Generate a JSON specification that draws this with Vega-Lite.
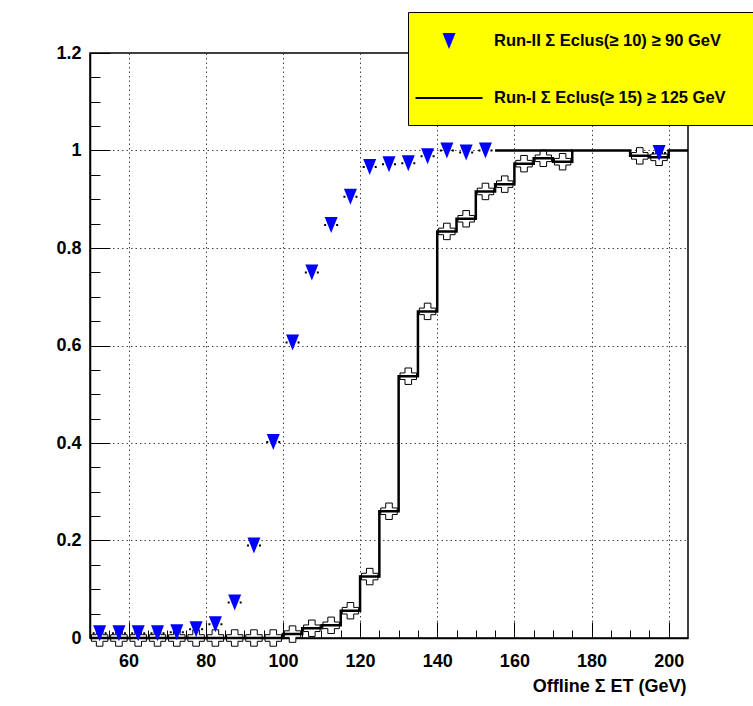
{
  "$schema": "https://vega.github.io/schema/vega-lite/v6.json",
  "width": 598,
  "height": 585,
  "autosize": "none",
  "padding": {"left": 90, "top": 53, "right": 65, "bottom": 68},
  "background": "white",
  "config": {
    "view": {"stroke": "black", "strokeWidth": 1.5},
    "font": "Liberation Sans",
    "legend": {
      "orient": "none",
      "legendX": 318,
      "legendY": -41,
      "fillColor": "#ffff00",
      "strokeColor": "black",
      "padding": 18,
      "rowPadding": 37,
      "symbolSize": 400,
      "symbolOffset": 12,
      "labelOffset": 34,
      "labelFont": "Liberation Sans",
      "labelFontSize": 16.5,
      "labelFontWeight": "bold",
      "labelColor": "black",
      "labelLimit": 0
    }
  },
  "datasets": {
    "run2": [
      {"x": 52.5, "lo": 50, "hi": 55, "y": 0.01, "s": "Run-II  Σ Eclus(≥ 10) ≥ 90 GeV"},
      {"x": 57.5, "lo": 55, "hi": 60, "y": 0.01, "s": "Run-II  Σ Eclus(≥ 10) ≥ 90 GeV"},
      {"x": 62.5, "lo": 60, "hi": 65, "y": 0.01, "s": "Run-II  Σ Eclus(≥ 10) ≥ 90 GeV"},
      {"x": 67.5, "lo": 65, "hi": 70, "y": 0.01, "s": "Run-II  Σ Eclus(≥ 10) ≥ 90 GeV"},
      {"x": 72.5, "lo": 70, "hi": 75, "y": 0.012, "s": "Run-II  Σ Eclus(≥ 10) ≥ 90 GeV"},
      {"x": 77.5, "lo": 75, "hi": 80, "y": 0.018, "s": "Run-II  Σ Eclus(≥ 10) ≥ 90 GeV"},
      {"x": 82.5, "lo": 80, "hi": 85, "y": 0.028, "s": "Run-II  Σ Eclus(≥ 10) ≥ 90 GeV"},
      {"x": 87.5, "lo": 85, "hi": 90, "y": 0.073, "s": "Run-II  Σ Eclus(≥ 10) ≥ 90 GeV"},
      {"x": 92.5, "lo": 90, "hi": 95, "y": 0.19, "s": "Run-II  Σ Eclus(≥ 10) ≥ 90 GeV"},
      {"x": 97.5, "lo": 95, "hi": 100, "y": 0.402, "s": "Run-II  Σ Eclus(≥ 10) ≥ 90 GeV"},
      {"x": 102.5, "lo": 100, "hi": 105, "y": 0.606, "s": "Run-II  Σ Eclus(≥ 10) ≥ 90 GeV"},
      {"x": 107.5, "lo": 105, "hi": 110, "y": 0.75, "s": "Run-II  Σ Eclus(≥ 10) ≥ 90 GeV"},
      {"x": 112.5, "lo": 110, "hi": 115, "y": 0.847, "s": "Run-II  Σ Eclus(≥ 10) ≥ 90 GeV"},
      {"x": 117.5, "lo": 115, "hi": 120, "y": 0.905, "s": "Run-II  Σ Eclus(≥ 10) ≥ 90 GeV"},
      {"x": 122.5, "lo": 120, "hi": 125, "y": 0.966, "s": "Run-II  Σ Eclus(≥ 10) ≥ 90 GeV"},
      {"x": 127.5, "lo": 125, "hi": 130, "y": 0.972, "s": "Run-II  Σ Eclus(≥ 10) ≥ 90 GeV"},
      {"x": 132.5, "lo": 130, "hi": 135, "y": 0.974, "s": "Run-II  Σ Eclus(≥ 10) ≥ 90 GeV"},
      {"x": 137.5, "lo": 135, "hi": 140, "y": 0.988, "s": "Run-II  Σ Eclus(≥ 10) ≥ 90 GeV"},
      {"x": 142.5, "lo": 140, "hi": 145, "y": 1.0, "s": "Run-II  Σ Eclus(≥ 10) ≥ 90 GeV"},
      {"x": 147.5, "lo": 145, "hi": 150, "y": 0.996, "s": "Run-II  Σ Eclus(≥ 10) ≥ 90 GeV"},
      {"x": 152.5, "lo": 150, "hi": 155, "y": 1.0, "s": "Run-II  Σ Eclus(≥ 10) ≥ 90 GeV"},
      {"x": 197.5, "lo": 195, "hi": 200, "y": 0.995, "s": "Run-II  Σ Eclus(≥ 10) ≥ 90 GeV"}
    ],
    "run2flat": [
      {"x": 155, "hi": 175, "y": 1.0}
    ],
    "run1hist": [
      {"x": 50, "y": 0},
      {"x": 100, "y": 0.008},
      {"x": 105, "y": 0.02},
      {"x": 110, "y": 0.026},
      {"x": 115, "y": 0.056},
      {"x": 120, "y": 0.126},
      {"x": 125, "y": 0.26},
      {"x": 130, "y": 0.537},
      {"x": 135, "y": 0.67},
      {"x": 140, "y": 0.834},
      {"x": 145, "y": 0.86},
      {"x": 150, "y": 0.916},
      {"x": 155, "y": 0.931},
      {"x": 160, "y": 0.973},
      {"x": 165, "y": 0.984},
      {"x": 170, "y": 0.977},
      {"x": 175, "y": 1.0},
      {"x": 180, "y": 1.0},
      {"x": 185, "y": 1.0},
      {"x": 190, "y": 0.989},
      {"x": 195, "y": 0.986},
      {"x": 200, "y": 1.0},
      {"x": 205, "y": 1.0}
    ],
    "run1pts": [
      {"x": 52.5, "y": 0}, {"x": 57.5, "y": 0}, {"x": 62.5, "y": 0}, {"x": 67.5, "y": 0},
      {"x": 72.5, "y": 0}, {"x": 77.5, "y": 0}, {"x": 82.5, "y": 0}, {"x": 87.5, "y": 0},
      {"x": 92.5, "y": 0}, {"x": 97.5, "y": 0},
      {"x": 102.5, "y": 0.008}, {"x": 107.5, "y": 0.02}, {"x": 112.5, "y": 0.026},
      {"x": 117.5, "y": 0.056}, {"x": 122.5, "y": 0.126}, {"x": 127.5, "y": 0.26},
      {"x": 132.5, "y": 0.537}, {"x": 137.5, "y": 0.67}, {"x": 142.5, "y": 0.834},
      {"x": 147.5, "y": 0.86}, {"x": 152.5, "y": 0.916}, {"x": 157.5, "y": 0.931},
      {"x": 162.5, "y": 0.973}, {"x": 167.5, "y": 0.984}, {"x": 172.5, "y": 0.977},
      {"x": 192.5, "y": 0.989}, {"x": 197.5, "y": 0.986}
    ]
  },
  "encoding": {
    "x": {
      "field": "x", "type": "quantitative",
      "scale": {"domain": [50, 205], "nice": false, "zero": false},
      "axis": {
        "values": [55, 60, 65, 70, 75, 80, 85, 90, 95, 100, 105, 110, 115, 120, 125, 130, 135, 140, 145, 150, 155, 160, 165, 170, 175, 180, 185, 190, 195, 200],
        "title": "Offline  Σ ET (GeV)",
        "titleFont": "Liberation Sans", "titleFontSize": 18, "titleFontWeight": "bold", "titleColor": "black",
        "titleAnchor": "end", "titleAlign": "right", "titleBaseline": "alphabetic",
        "titleX": 596, "titleY": 53,
        "domainColor": "black", "domainWidth": 1.5,
        "grid": true, "gridColor": "#444", "gridDash": [1.5, 3], "gridWidth": 1,
        "gridOpacity": {"condition": {"test": "datum.value % 20 === 0", "value": 1}, "value": 0},
        "tickColor": "black", "tickWidth": 1,
        "tickSize": {"condition": {"test": "datum.value % 20 === 0", "value": -16}, "value": -8},
        "labelExpr": "datum.value % 20 === 0 ? datum.label : ''",
        "labelFont": "Liberation Sans", "labelFontSize": 18, "labelFontWeight": "bold", "labelColor": "black",
        "labelPadding": 30, "labelFlush": false
      }
    },
    "y": {
      "field": "y", "type": "quantitative",
      "scale": {"domain": [0, 1.2], "nice": false, "zero": false},
      "axis": {
        "values": [0, 0.05, 0.1, 0.15, 0.2, 0.25, 0.3, 0.35, 0.4, 0.45, 0.5, 0.55, 0.6, 0.65, 0.7, 0.75, 0.8, 0.85, 0.9, 0.95, 1, 1.05, 1.1, 1.15, 1.2],
        "title": null,
        "format": "~g",
        "domainColor": "black", "domainWidth": 1.5,
        "grid": true, "gridColor": "#444", "gridDash": [1.5, 3], "gridWidth": 1,
        "gridOpacity": {"condition": {"test": "abs(datum.value*5 - round(datum.value*5)) < 0.0001 && datum.value > 0.01 && datum.value < 1.19", "value": 1}, "value": 0},
        "tickColor": "black", "tickWidth": 1,
        "tickSize": {"condition": {"test": "abs(datum.value*5 - round(datum.value*5)) < 0.0001", "value": -20}, "value": -10},
        "labelExpr": "abs(datum.value*5 - round(datum.value*5)) < 0.0001 ? datum.label : ''",
        "labelFont": "Liberation Sans", "labelFontSize": 18, "labelFontWeight": "bold", "labelColor": "black",
        "labelPadding": 29, "labelFlush": false
      }
    }
  },
  "layer": [
    {
      "data": {"name": "run1pts"},
      "mark": {"type": "point", "shape": "cross", "size": 270, "filled": true, "fill": "white", "stroke": "black", "strokeWidth": 1, "opacity": 1}
    },
    {
      "data": {"name": "run1hist"},
      "mark": {"type": "line", "interpolate": "step-after", "color": "black", "strokeWidth": 2.5}
    },
    {
      "data": {"name": "run2flat"},
      "mark": {"type": "rule", "color": "black", "strokeWidth": 2.5},
      "encoding": {"x2": {"field": "hi"}}
    },
    {
      "data": {"name": "run2"},
      "mark": {"type": "rule", "color": "black", "strokeWidth": 2, "strokeDash": [2, 3]},
      "encoding": {"x2": {"field": "lo"}}
    },
    {
      "data": {"name": "run2"},
      "mark": {"type": "rule", "color": "black", "strokeWidth": 2, "strokeDash": [2, 3]},
      "encoding": {"x2": {"field": "hi"}}
    },
    {
      "data": {"name": "run2"},
      "mark": {"type": "point", "filled": true, "size": 400, "opacity": 1},
      "encoding": {
        "color": {
          "field": "s", "type": "nominal",
          "scale": {"domain": ["Run-II  Σ Eclus(≥ 10) ≥ 90 GeV", "Run-I  Σ Eclus(≥ 15)  ≥ 125 GeV"], "range": ["#0000ff", "black"]},
          "legend": {"title": null}
        },
        "shape": {
          "field": "s", "type": "nominal",
          "scale": {"domain": ["Run-II  Σ Eclus(≥ 10) ≥ 90 GeV", "Run-I  Σ Eclus(≥ 15)  ≥ 125 GeV"], "range": ["M-0.65,-0.8L0.65,-0.8L0,0.8Z", "M-3.35,-0.1L3.35,-0.1L3.35,0.1L-3.35,0.1Z"]},
          "legend": {"title": null}
        }
      }
    }
  ]
}
